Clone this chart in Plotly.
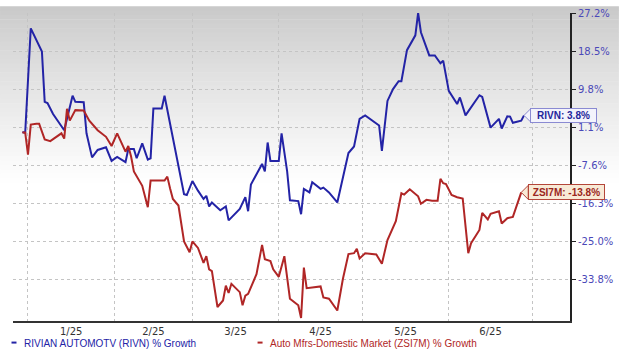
import plotly.graph_objects as go

# ---------------- data ----------------
rivn_dates = [
    "2024-12-30", "2024-12-31", "2025-01-02", "2025-01-06", "2025-01-07", "2025-01-08", "2025-01-10",
    "2025-01-14", "2025-01-17", "2025-01-18", "2025-01-21", "2025-01-22", "2025-01-24", "2025-01-26",
    "2025-01-29", "2025-01-31",
    "2025-02-02", "2025-02-05", "2025-02-06", "2025-02-08", "2025-02-09", "2025-02-11", "2025-02-13",
    "2025-02-14", "2025-02-15", "2025-02-18", "2025-02-19", "2025-02-21", "2025-02-24", "2025-02-26",
    "2025-02-27",
    "2025-03-01", "2025-03-03", "2025-03-05", "2025-03-06", "2025-03-07", "2025-03-08", "2025-03-11",
    "2025-03-13", "2025-03-14", "2025-03-18", "2025-03-20", "2025-03-21", "2025-03-22", "2025-03-26",
    "2025-03-27", "2025-03-28", "2025-03-29",
    "2025-04-01", "2025-04-02", "2025-04-04", "2025-04-05", "2025-04-08", "2025-04-09", "2025-04-10",
    "2025-04-12", "2025-04-13", "2025-04-16", "2025-04-17", "2025-04-19", "2025-04-22", "2025-04-24",
    "2025-04-25", "2025-04-26", "2025-04-28", "2025-04-29", "2025-04-30",
    "2025-05-02", "2025-05-07", "2025-05-08", "2025-05-10", "2025-05-12", "2025-05-14", "2025-05-15",
    "2025-05-17", "2025-05-20", "2025-05-21", "2025-05-22", "2025-05-25", "2025-05-27", "2025-05-29",
    "2025-05-30",
    "2025-06-01", "2025-06-04", "2025-06-05", "2025-06-07", "2025-06-12", "2025-06-13", "2025-06-16",
    "2025-06-19", "2025-06-20", "2025-06-22", "2025-06-23", "2025-06-24", "2025-06-27", "2025-06-28",
]
rivn_growth = [
    0.0, -0.2, 23.7, 18.4, 6.9, 6.6, 4.1, 0.4, 8.3, 6.9, 6.8, -0.3, -5.8, -4.1, -3.5, -6.6,
    -5.7, -6.9, -3.9, -3.9, -6.0, -2.6, -6.3, -6.0, 5.4, 5.4, 8.3, 1.9, -7.1, -14.2, -14.4,
    -11.2, -13.4, -15.3, -14.6, -17.0, -16.1, -17.9, -17.0, -20.2, -17.6, -14.9, -18.1, -12.0, -7.3,
    -9.0, -2.4, -6.6,
    -6.6, -0.3, -9.0, -15.6, -15.8, -18.8, -13.0, -13.8, -11.5, -13.0, -12.7, -13.8, -16.1, -10.4,
    -7.1, -4.8, -3.3, 0.0, 3.0,
    3.8, 1.5, -4.3, 7.1, 9.8, 11.6, 11.6, 18.7, 22.1, 27.2, 22.8, 17.5, 17.5, 15.7, 16.3,
    9.4, 6.4, 7.9, 3.8, 8.4, 8.0, 1.0, 3.0, 0.8, 3.6, 3.5, 2.1, 2.6, 3.8,
]

zsi_dates = [
    "2024-12-30", "2024-12-31", "2025-01-01", "2025-01-02", "2025-01-04", "2025-01-05", "2025-01-07",
    "2025-01-09", "2025-01-13", "2025-01-14", "2025-01-15", "2025-01-16", "2025-01-18", "2025-01-21",
    "2025-01-23", "2025-01-26", "2025-01-29", "2025-01-31",
    "2025-02-02", "2025-02-05", "2025-02-06", "2025-02-07", "2025-02-08", "2025-02-10", "2025-02-11",
    "2025-02-13", "2025-02-14", "2025-02-19", "2025-02-20", "2025-02-21", "2025-02-22", "2025-02-24",
    "2025-02-26", "2025-02-28",
    "2025-03-01", "2025-03-03", "2025-03-05", "2025-03-06", "2025-03-07", "2025-03-08", "2025-03-10",
    "2025-03-12", "2025-03-13", "2025-03-14", "2025-03-15", "2025-03-18", "2025-03-19", "2025-03-20",
    "2025-03-21", "2025-03-24", "2025-03-26", "2025-03-27", "2025-03-29", "2025-03-30",
    "2025-04-01", "2025-04-03", "2025-04-05", "2025-04-08", "2025-04-09", "2025-04-10", "2025-04-11",
    "2025-04-16", "2025-04-17", "2025-04-19", "2025-04-22", "2025-04-24", "2025-04-26", "2025-04-28",
    "2025-04-29", "2025-04-30",
    "2025-05-02", "2025-05-06", "2025-05-08", "2025-05-10", "2025-05-13", "2025-05-15", "2025-05-16",
    "2025-05-18", "2025-05-21", "2025-05-22", "2025-05-24", "2025-05-26", "2025-05-28", "2025-05-29",
    "2025-05-30", "2025-05-31",
    "2025-06-02", "2025-06-04", "2025-06-06", "2025-06-08", "2025-06-09", "2025-06-12", "2025-06-13",
    "2025-06-15", "2025-06-16", "2025-06-19", "2025-06-20", "2025-06-22", "2025-06-24", "2025-06-27",
]
zsi_growth = [
    -0.1, -0.1, -5.2, 1.7, 1.9, 1.9, -1.7, -2.1, -0.3, -1.5, 5.3, 2.6, 5.0, 4.9, 2.6, 0.4, -1.1, -3.2,
    -0.3, -4.5, -3.2, -5.6, -9.0, -11.2, -12.3, -17.2, -11.1, -11.1, -10.2, -12.9, -15.3, -16.8,
    -25.0, -27.5,
    -25.0, -26.5, -29.9, -28.4, -31.4, -31.8, -40.0, -38.5, -35.1, -36.8, -34.7, -36.6, -39.6, -37.4,
    -37.0, -32.5, -25.8, -29.1, -29.5, -31.4,
    -33.1, -28.4, -38.1, -39.6, -42.5, -31.0, -35.7, -35.3, -37.8, -38.1, -40.8, -33.6, -27.9, -27.7,
    -26.7, -28.9,
    -27.7, -28.0, -30.1, -24.7, -20.4, -14.0, -14.3, -13.1, -14.7, -16.4, -15.5, -15.7, -15.7, -10.7,
    -11.7, -11.9,
    -14.4, -14.9, -15.2, -27.7, -25.4, -22.4, -18.5, -20.0, -18.7, -18.1, -20.9, -19.7, -19.4, -13.8,
]

y_ticks = [27.2, 18.5, 9.8, 1.1, -7.6, -16.3, -25.0, -33.8]
y_tick_labels = [f"{v:.1f}%" for v in y_ticks]

rivn_name = "RIVIAN AUTOMOTV (RIVN) % Growth"
zsi_name = "Auto Mfrs-Domestic Market (ZSI7M) % Growth"
rivn_tag = "RIVN"
zsi_tag = "ZSI7M"

# ---------------- style ----------------
W, H = 620, 353
L, R, T, B = 13, 571, 7, 321
PW, PH = R - L, B - T
BLUE = "#2323a6"
RED = "#b02626"
RIVN_TAG_FILL, RIVN_TAG_LINE, RIVN_TAG_TEXT = "#f3f3fc", "#8a8ad2", "#25259a"
ZSI_TAG_FILL, ZSI_TAG_LINE, ZSI_TAG_TEXT = "#f8ead6", "#b4463a", "#9a2620"


def px(x):
    return (x - L) / PW


def py(y):
    return (B - y) / PH


fig = go.Figure()

fig.add_trace(go.Scatter(x=rivn_dates, y=rivn_growth, mode="lines", name=rivn_name,
                         line=dict(color=BLUE, width=2), showlegend=False))
fig.add_trace(go.Scatter(x=zsi_dates, y=zsi_growth, mode="lines", name=zsi_name,
                         line=dict(color=RED, width=2), showlegend=False))

shapes = []
# background gradient (grey at top, fading to white)
n_bands = 40
band_h = 180 / n_bands
for i in range(n_bands):
    y0 = i * band_h
    t = (y0 + band_h / 2) / 180
    c = int(round(200 + 55 * (t ** 0.85)))
    c = min(c, 255)
    shapes.append(dict(type="rect", xref="paper", yref="paper", x0=px(0), x1=px(W),
                       y0=py(y0 + band_h + 0.5), y1=py(y0), line=dict(width=0),
                       fillcolor=f"rgb({c},{c},{c})", layer="below"))

# legend dashes
shapes.append(dict(type="line", xref="paper", yref="paper", x0=px(11.5), x1=px(16.5),
                   y0=py(343), y1=py(343), line=dict(color=BLUE, width=2)))
shapes.append(dict(type="line", xref="paper", yref="paper", x0=px(258), x1=px(263),
                   y0=py(343), y1=py(343), line=dict(color=RED, width=2)))

# pointer triangles of the end-value tags (anchored at each series' last point)
shapes.append(dict(type="path", xref="x", yref="y", xsizemode="pixel", ysizemode="pixel",
                   xanchor=rivn_dates[-1], yanchor=rivn_growth[-1],
                   path="M0,0 L6.5,-6.5 L6.5,6.5 Z",
                   fillcolor=RIVN_TAG_FILL, line=dict(color=RIVN_TAG_LINE, width=1)))
shapes.append(dict(type="path", xref="x", yref="y", xsizemode="pixel", ysizemode="pixel",
                   xanchor=zsi_dates[-1], yanchor=zsi_growth[-1],
                   path="M0,0 L7,-7 L7,7 Z",
                   fillcolor=ZSI_TAG_FILL, line=dict(color=ZSI_TAG_LINE, width=1)))

annotations = [
    dict(xref="paper", yref="paper", x=px(22), y=py(343.5), xanchor="left", yanchor="middle",
         text=rivn_name, showarrow=False, font=dict(family="Liberation Sans, Arial", size=10, color=BLUE)),
    dict(xref="paper", yref="paper", x=px(268), y=py(343.5), xanchor="left", yanchor="middle",
         text=zsi_name, showarrow=False, font=dict(family="Liberation Sans, Arial", size=10, color=RED)),
    dict(xref="x", yref="y", x=rivn_dates[-1], y=rivn_growth[-1], xanchor="left", yanchor="middle",
         xshift=6, text=f"<b>{rivn_tag}: {rivn_growth[-1]:.1f}%</b>", showarrow=False,
         width=63, height=11, align="center", valign="middle",
         bgcolor=RIVN_TAG_FILL, bordercolor=RIVN_TAG_LINE, borderwidth=1, borderpad=1,
         font=dict(family="Liberation Sans, Arial", size=10, color=RIVN_TAG_TEXT)),
    dict(xref="x", yref="y", x=zsi_dates[-1], y=zsi_growth[-1], xanchor="left", yanchor="middle",
         xshift=7, text=f"<b>{zsi_tag}: {zsi_growth[-1]:.1f}%</b>", showarrow=False,
         width=73, height=12, align="center", valign="middle",
         bgcolor=ZSI_TAG_FILL, bordercolor=ZSI_TAG_LINE, borderwidth=1, borderpad=1,
         font=dict(family="Liberation Sans, Arial", size=10, color=ZSI_TAG_TEXT)),
]

fig.update_layout(
    width=W, height=H,
    margin=dict(l=L, r=W - R, t=T, b=H - B, pad=0),
    paper_bgcolor="white",
    plot_bgcolor="rgba(0,0,0,0)",
    shapes=shapes,
    annotations=annotations,
    showlegend=False,
    xaxis=dict(
        type="date",
        range=["2024-12-26 15:00", "2025-07-14 12:00"],
        tick0="2025-01-01", dtick="M1", ticklabelmode="period", tickformat="%-m/%y",
        showgrid=True, gridcolor="#c4c4c4", griddash="dot", gridwidth=1,
        showline=True, linecolor="#333333", linewidth=2,
        ticks="", zeroline=False,
        tickfont=dict(family="DejaVu Sans", size=10, color="#333333"),
    ),
    yaxis=dict(
        side="right",
        range=[-43.2, 27.2],
        tickvals=y_ticks, ticktext=y_tick_labels,
        showgrid=True, gridcolor="#c4c4c4", griddash="dot", gridwidth=1,
        showline=True, linecolor="#222222", linewidth=2,
        ticks="outside", ticklen=4, tickcolor="#222222", tickwidth=1,
        zeroline=False,
        tickfont=dict(family="DejaVu Sans", size=10, color="#4a48b8"),
    ),
)

fig.write_html("out.html")
